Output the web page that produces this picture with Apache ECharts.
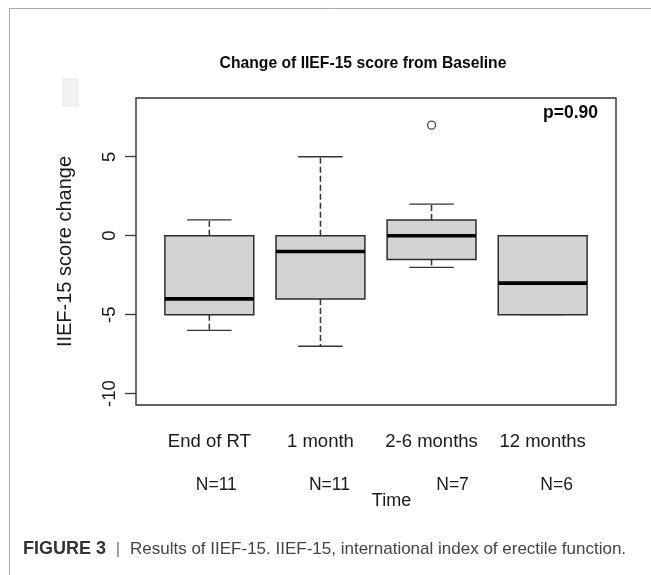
<!DOCTYPE html>
<html>
<head>
<meta charset="utf-8">
<script src="https://cdn.jsdelivr.net/npm/echarts@6/dist/echarts.min.js"></script>
<style>
  html, body { margin: 0; padding: 0; background: #fff; }
  #main { width: 651px; height: 575px; }
</style>
</head>
<body>
<div id="main"></div>
<script>
// groups along the x axis
var categories = ['End of RT', '1 month', '2-6 months', '12 months'];
var groupN = ['N=11', 'N=11', 'N=7', 'N=6'];
// five-number summaries per group
var whiskerLow = [-6, -7, -2, -5];
var quartile1 = [-5, -4, -1.5, -5];
var medians = [-4, -1, 0, -3];
var quartile3 = [0, 0, 1, 0];
var whiskerHigh = [1, 5, 2, 0];
// outliers as [group position, value]
var outliers = [[3, 7]];
var yTicks = [-10, -5, 0, 5];
var xTicks = [1, 2, 3, 4];
var pValue = 'p=0.90';

var FONT = '"Liberation Sans", Arial, Helvetica, sans-serif';
var INK = '#333';
var TXT = '#1a1a1a';

var chartDom = document.getElementById('main');
var myChart = echarts.init(chartDom);

var boxData = categories.map(function (c, i) {
  return [i + 1, whiskerLow[i], quartile1[i], medians[i], quartile3[i], whiskerHigh[i]];
});

// R-style box: dashed whiskers, solid staples, grey box, thick median
function renderBox(params, api) {
  var x = api.value(0);
  var lo = api.coord([x, api.value(1)]);
  var q1 = api.coord([x, api.value(2)]);
  var md = api.coord([x, api.value(3)]);
  var q3 = api.coord([x, api.value(4)]);
  var hi = api.coord([x, api.value(5)]);
  var boxW = api.size([0.8, 0])[0];
  var capW = api.size([0.4, 0])[0];
  var cx = q1[0];
  var dashed = { stroke: INK, lineWidth: 1.5, lineDash: [6, 3] };
  var solid = { stroke: INK, lineWidth: 1.3 };
  return {
    type: 'group',
    children: [
      { type: 'line', shape: { x1: cx, y1: q3[1], x2: cx, y2: hi[1] }, style: dashed },
      { type: 'line', shape: { x1: cx, y1: q1[1], x2: cx, y2: lo[1] }, style: dashed },
      { type: 'line', shape: { x1: cx - capW / 2, y1: hi[1], x2: cx + capW / 2, y2: hi[1] }, style: solid },
      { type: 'line', shape: { x1: cx - capW / 2, y1: lo[1], x2: cx + capW / 2, y2: lo[1] }, style: solid },
      {
        type: 'rect',
        shape: { x: cx - boxW / 2, y: q3[1], width: boxW, height: q1[1] - q3[1] },
        style: { fill: '#d3d3d3', stroke: '#2e2e2e', lineWidth: 1.5 }
      },
      {
        type: 'line',
        shape: { x1: cx - boxW / 2, y1: md[1], x2: cx + boxW / 2, y2: md[1] },
        style: { stroke: '#000', lineWidth: 3.6 }
      }
    ]
  };
}

var option = {
  animation: false,
  backgroundColor: '#fff',
  grid: {
    left: 136, top: 98, width: 480, height: 307,
    show: true, borderColor: INK, borderWidth: 1.4,
    outerBoundsMode: 'none'
  },
  xAxis: {
    type: 'value',
    min: 0.34,
    max: 4.66,
    axisLine: { show: false },
    splitLine: { show: false },
    axisTick: { show: true, length: 11, customValues: xTicks, lineStyle: { color: INK, width: 1.3 } },
    axisLabel: {
      customValues: xTicks,
      formatter: function (v) { return categories[Math.round(v) - 1]; },
      margin: 27,
      fontSize: 18.5,
      color: TXT,
      fontFamily: FONT
    },
    name: 'Time',
    nameLocation: 'middle',
    nameGap: 87,
    nameTextStyle: { fontSize: 18, color: TXT, fontFamily: FONT, padding: [0, 0, 0, 31] }
  },
  yAxis: {
    type: 'value',
    min: -10.72,
    max: 8.72,
    axisLine: { show: false },
    splitLine: { show: false },
    axisTick: { show: true, length: 11, customValues: yTicks, lineStyle: { color: INK, width: 1.3 } },
    axisLabel: {
      customValues: yTicks,
      rotate: 90,
      margin: 17,
      fontSize: 18.5,
      color: TXT,
      fontFamily: FONT
    },
    name: 'IIEF-15 score change',
    nameLocation: 'middle',
    nameRotate: 90,
    nameGap: 61,
    nameMoveOverlap: false,
    nameTextStyle: { fontSize: 20, color: TXT, fontFamily: FONT }
  },
  series: [
    {
      type: 'custom',
      renderItem: renderBox,
      dimensions: ['pos', 'low', 'q1', 'median', 'q3', 'high'],
      encode: { x: 0, y: [1, 2, 3, 4, 5] },
      data: boxData,
      z: 2
    },
    {
      type: 'scatter',
      data: outliers,
      symbol: 'circle',
      symbolSize: 8,
      itemStyle: { color: '#fff', borderColor: '#222', borderWidth: 1.4 },
      z: 3
    }
  ]
};
myChart.setOption(option);

// annotations: title, p-value, group sizes, caption and the page frame
var nOffsets = [7, 9, 21, 14];
var graphics = [
  { type: 'polyline', shape: { points: [[651, 8.5], [9.5, 8.5], [9.5, 575]] }, style: { stroke: '#aaa', lineWidth: 1, fill: null } },
  { type: 'rect', shape: { x: 62, y: 78, width: 17, height: 29 }, style: { fill: '#f1f1f1' } },
  {
    type: 'text', x: 363, y: 64,
    style: { text: 'Change of IIEF-15 score from Baseline', font: 'bold 15.7px ' + FONT, fill: '#0a0a0a', align: 'center', verticalAlign: 'middle' }
  },
  {
    type: 'text', x: 598, y: 113,
    style: { text: pValue, font: 'bold 17.5px ' + FONT, fill: '#0a0a0a', align: 'right', verticalAlign: 'middle' }
  },
  {
    type: 'text', x: 23, y: 549,
    style: { text: 'FIGURE 3', font: 'bold 18px ' + FONT, fill: '#333', align: 'left', verticalAlign: 'middle' }
  },
  {
    type: 'text', x: 118, y: 549,
    style: { text: '|', font: '17px ' + FONT, fill: '#777', align: 'center', verticalAlign: 'middle' }
  },
  {
    type: 'text', x: 130, y: 549,
    style: { text: 'Results of IIEF-15. IIEF-15, international index of erectile function.', font: '17px ' + FONT, fill: '#444', align: 'left', verticalAlign: 'middle' }
  }
];
groupN.forEach(function (label, i) {
  var px = myChart.convertToPixel({ xAxisIndex: 0 }, i + 1);
  graphics.push({
    type: 'text', x: px + nOffsets[i], y: 485,
    style: { text: label, font: '17.5px ' + FONT, fill: TXT, align: 'center', verticalAlign: 'middle' }
  });
});
myChart.setOption({ graphic: graphics });
</script>
</body>
</html>
